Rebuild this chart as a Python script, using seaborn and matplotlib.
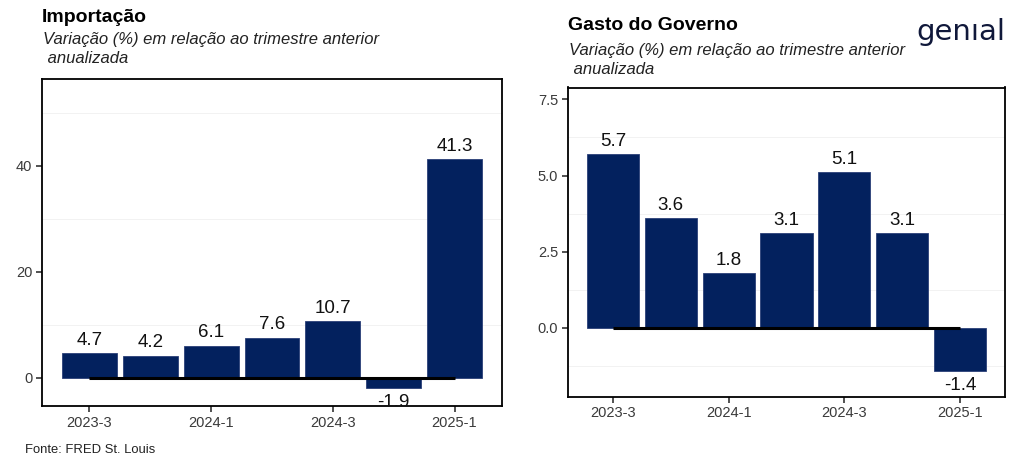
import matplotlib
matplotlib.use("Agg")
import matplotlib.pyplot as plt
import seaborn as sns
import pandas as pd
from matplotlib.ticker import FixedLocator

quarters = ["2023-3", "2023-4", "2024-1", "2024-2", "2024-3", "2024-4", "2025-1"]
importacao = [4.7, 4.2, 6.1, 7.6, 10.7, -1.9, 41.3]
gasto_governo = [5.7, 3.6, 1.8, 3.1, 5.1, 3.1, -1.4]
tick_labels = ["2023-3", "2024-1", "2024-3", "2025-1"]

left_title = "Importação"
right_title = "Gasto do Governo"
subtitle = "Variação (%) em relação ao trimestre anterior\n anualizada"
source = "Fonte: FRED St. Louis"

NAVY = "#03215e"

sns.set_theme(style="white")
plt.rcParams["font.family"] = ["Liberation Sans", "DejaVu Sans"]

fig = plt.figure(figsize=(10.24, 4.66), dpi=100)
ax1 = fig.add_axes([42/1024, 1-406/466, 460/1024, 327/466])
ax2 = fig.add_axes([568/1024, 1-396.7/466, 437/1024, 309.2/466])


def draw(ax, values, ylim, yticks, yfmt, minor, title, title_y, sub_y):
    df = pd.DataFrame({"q": quarters, "v": values})
    sns.barplot(data=df, x="q", y="v", order=quarters, color=NAVY,
                saturation=1, width=0.9, edgecolor="#2a3f78", linewidth=0.6, ax=ax, zorder=2)
    ax.plot([0, len(quarters) - 1], [0, 0], color="black", lw=2.2, zorder=3,
            solid_capstyle="butt")
    for i, v in enumerate(values):
        if v >= 0:
            ax.annotate(f"{v:.1f}", (i, v), xytext=(0, 3), textcoords="offset points",
                        ha="center", va="bottom", fontsize=13.5, color="#111111", zorder=4)
        else:
            t = ax.annotate(f"{v:.1f}", (i, v), xytext=(0, -4.5), textcoords="offset points",
                            ha="center", va="top", fontsize=13.5, color="#111111", zorder=4,
                            annotation_clip=False)
            t.set_clip_on(True)
            t.set_clip_box(ax.bbox)
    ax.set_xlim(-0.78, 6.78)
    ax.set_ylim(*ylim)
    ax.set_xticks([quarters.index(t) for t in tick_labels])
    ax.set_xticklabels(tick_labels)
    ax.set_yticks(yticks)
    ax.set_yticklabels([yfmt.format(t) for t in yticks])
    ax.yaxis.set_minor_locator(FixedLocator(minor))
    ax.grid(False)
    ax.grid(which="minor", axis="y", color="#f0f0f0", lw=0.6, zorder=0)
    ax.tick_params(axis="both", which="major", length=4, width=1.2, color="#333333",
                   labelsize=10.5, labelcolor="#3a3a3a", pad=3, bottom=True, left=True)
    ax.tick_params(axis="y", which="minor", length=0)
    ax.set_xlabel("")
    ax.set_ylabel("")
    for s in ax.spines.values():
        s.set_visible(True)
        s.set_color("black")
        s.set_linewidth(1.3)
    pos = ax.get_position()
    fig.text(pos.x0, title_y, title, fontsize=14, fontweight="bold", ha="left", va="center",
             color="black")
    fig.text(pos.x0 + 0.001, sub_y, subtitle, fontsize=12, style="italic", ha="left",
             va="top", color="#222222", linespacing=1.3)


draw(ax1, importacao, (-5.3, 56.4), [0, 20, 40], "{:.0f}", [10, 30, 50],
     left_title, 1 - 17/466, 1 - 32/466)
draw(ax2, gasto_governo, (-2.26, 7.89), [0.0, 2.5, 5.0, 7.5], "{:.1f}",
     [-1.25, 1.25, 3.75, 6.25], right_title, 1 - 25/466, 1 - 43/466)

fig.text(25/1024, 1 - 450/466, source, fontsize=9.4, ha="left", va="center", color="#222222")
fig.text(1005/1024, 1 - 32/466, "genıal", fontsize=21, ha="right", va="center",
         color="#10183a", family=["DejaVu Sans"])

fig.savefig("out.png", dpi=100)
